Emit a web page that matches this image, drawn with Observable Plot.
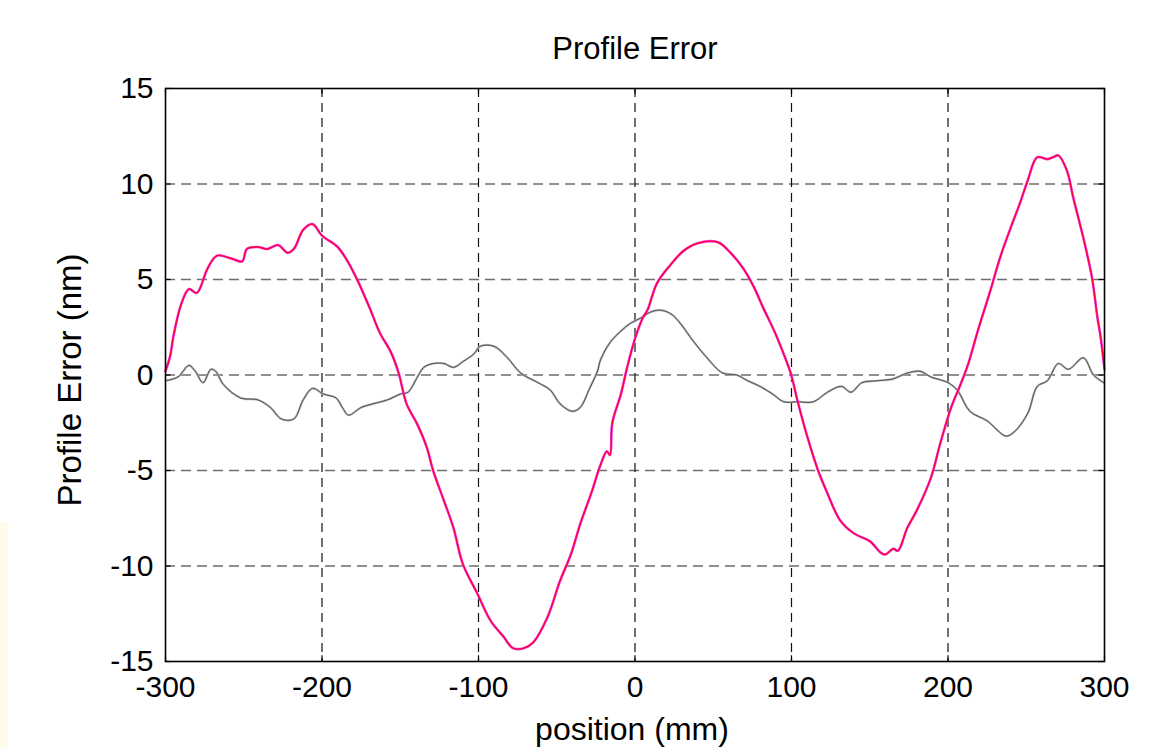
<!DOCTYPE html>
<html>
<head>
<meta charset="utf-8">
<script src="https://cdn.jsdelivr.net/npm/d3@7"></script>
<script src="https://cdn.jsdelivr.net/npm/@observablehq/plot@0.6"></script>
<style>
  html, body { margin: 0; padding: 0; background: #fff; }
  #wrap { position: relative; width: 1175px; height: 749px; }
  #strip { position: absolute; left: 0; top: 522px; width: 8px; height: 227px; background: #fffbea; }
</style>
</head>
<body>
<div id="wrap"><div id="strip"></div><div id="chart"></div></div>
<script>
const titleText = "Profile Error";
const xLabel = "position (mm)";
const yLabel = "Profile Error (nm)";
const xTicks = [-300, -200, -100, 0, 100, 200, 300];
const yTicks = [-15, -10, -5, 0, 5, 10, 15];

// Profile error (red/magenta) — position (mm), error (nm)
const redX = [-300,-297,-295,-290,-285,-280,-273,-267,-258,-251,-248,-241,-235,-228,-222,-218,-212,-206,-200,-190,-184,-177,-169,-163,-156,-151,-146,-139,-133,-129,-122,-116,-110,-101,-92,-84,-78,-71,-65,-56,-48,-41,-35,-28,-22,-18,-16,-14.5,-9,-5,0,5,8,14,23,31,40,53,61,69,76,82,89,95,99.5,104,110,117,123,131,140,150,157,160,165,168,174,180,189,195,202,208,213,219,227,233.5,240,246,251,257,263.5,267,270.5,276,280,287,292,295.5,297.5,300];
const redY = [0.2,1.0,2.0,3.7,4.5,4.3,5.6,6.25,6.1,5.95,6.6,6.7,6.6,6.8,6.4,6.6,7.6,7.9,7.3,6.7,6.0,4.9,3.4,2.2,1.2,0.1,-1.5,-2.6,-3.8,-5.0,-6.6,-8.0,-9.9,-11.4,-12.9,-13.7,-14.3,-14.3,-14.0,-12.7,-10.8,-9.4,-7.8,-6.2,-4.7,-4.0,-4.2,-2.5,-1.0,0.4,1.9,3.0,3.4,4.8,5.8,6.5,6.9,6.95,6.4,5.6,4.6,3.5,2.3,1.1,0.1,-1.4,-3.2,-5.0,-6.2,-7.6,-8.3,-8.7,-9.3,-9.4,-9.1,-9.2,-8.0,-7.1,-5.4,-3.6,-1.7,-0.5,0.6,2.3,4.4,6.2,7.7,9.0,10.2,11.4,11.3,11.4,11.5,10.7,9.3,7.0,5.1,3.0,2.0,0.3];

// Residual (gray)
const grayX = [-300,-292,-285,-281,-276,-271,-268,-263,-252,-241,-233,-226,-218,-212,-206,-199,-191,-187,-183,-175,-167,-158,-150,-145,-139,-135,-129,-122,-116,-110,-103,-99,-90,-81.5,-73,-62,-54,-48,-40,-35,-29,-24,-22,-16,-9,-3,4,10,16,23,29,37,46,56,65,72,80,88,95,104,114,123,132,138,145,155,165,174,182,189,200,206,214,225,237,242,251,257,263.5,270.5,277,286.5,293,299.5];
const grayY = [-0.3,-0.1,0.5,0.2,-0.4,0.3,0.2,-0.5,-1.2,-1.3,-1.7,-2.3,-2.3,-1.3,-0.7,-1.0,-1.2,-1.7,-2.1,-1.7,-1.5,-1.3,-1.0,-0.9,-0.1,0.4,0.6,0.6,0.4,0.7,1.1,1.5,1.5,0.9,0.1,-0.4,-0.8,-1.5,-1.9,-1.7,-0.7,0.2,0.8,1.7,2.3,2.7,3.0,3.3,3.4,3.2,2.7,1.8,0.9,0.1,0.0,-0.3,-0.6,-1.0,-1.4,-1.4,-1.4,-0.9,-0.6,-0.9,-0.4,-0.3,-0.2,0.1,0.2,-0.1,-0.4,-0.8,-1.9,-2.4,-3.2,-3.0,-2.0,-0.6,-0.3,0.6,0.3,0.9,0.0,-0.4];

const red = redX.map((x, i) => ({x, y: redY[i]}));
const gray = grayX.map((x, i) => ({x, y: grayY[i]}));
const innerX = xTicks.slice(1, -1);
const innerY = yTicks.slice(1, -1);
const fmt = d => String(d);

const chart = Plot.plot({
  width: 1175,
  height: 749,
  marginLeft: 165,
  marginRight: 71,
  marginTop: 88,
  marginBottom: 88,
  style: {fontFamily: "'Liberation Sans', Arial, sans-serif", background: "transparent", color: "black"},
  x: {domain: [-300, 300]},
  y: {domain: [-15, 15]},
  marks: [
    Plot.ruleY(innerY, {stroke: "#6e6e6e", strokeWidth: 1.5, strokeDasharray: "10,6"}),
    Plot.ruleX(innerX, {stroke: "#111", strokeWidth: 1.2, strokeDasharray: "9,6"}),
    Plot.ruleY(yTicks, {x1: -300, x2: -296.5, stroke: "black", strokeWidth: 1.2}),
    Plot.ruleY(yTicks, {x1: 296.5, x2: 300, stroke: "black", strokeWidth: 1.2}),
    Plot.ruleX(xTicks, {y1: -15, y2: -14.7, stroke: "black", strokeWidth: 1.2}),
    Plot.ruleX(xTicks, {y1: 14.7, y2: 15, stroke: "black", strokeWidth: 1.2}),
    Plot.line(gray, {x: "x", y: "y", stroke: "#b4b4b4", strokeWidth: 2.2, curve: "catmull-rom"}),
    Plot.line(gray, {x: "x", y: "y", stroke: "#444", strokeWidth: 0.9, curve: "catmull-rom"}),
    Plot.line(red, {x: "x", y: "y", stroke: "#f040f0", strokeWidth: 2.6, curve: "catmull-rom"}),
    Plot.line(red, {x: "x", y: "y", stroke: "#ff0033", strokeWidth: 1.4, curve: "catmull-rom"}),
    Plot.frame({stroke: "black", strokeWidth: 1.6}),
    Plot.axisX(xTicks, {tickSize: 0, tickPadding: 14, fontSize: 30, label: null, tickFormat: fmt}),
    Plot.axisY(yTicks, {tickSize: 0, tickPadding: 12, fontSize: 30, label: null, tickFormat: fmt}),
    Plot.text([titleText], {frameAnchor: "top", lineAnchor: "bottom", dy: -30, fontSize: 31, fill: "black"}),
    Plot.text([xLabel], {frameAnchor: "bottom", lineAnchor: "bottom", dy: 78, dx: -3, fontSize: 32, fill: "black"}),
    Plot.text([yLabel], {frameAnchor: "left", textAnchor: "middle", lineAnchor: "middle", rotate: -90, dx: -95, dy: 5, fontSize: 33, fill: "black"})
  ]
});
document.getElementById("chart").appendChild(chart);
</script>
</body>
</html>
